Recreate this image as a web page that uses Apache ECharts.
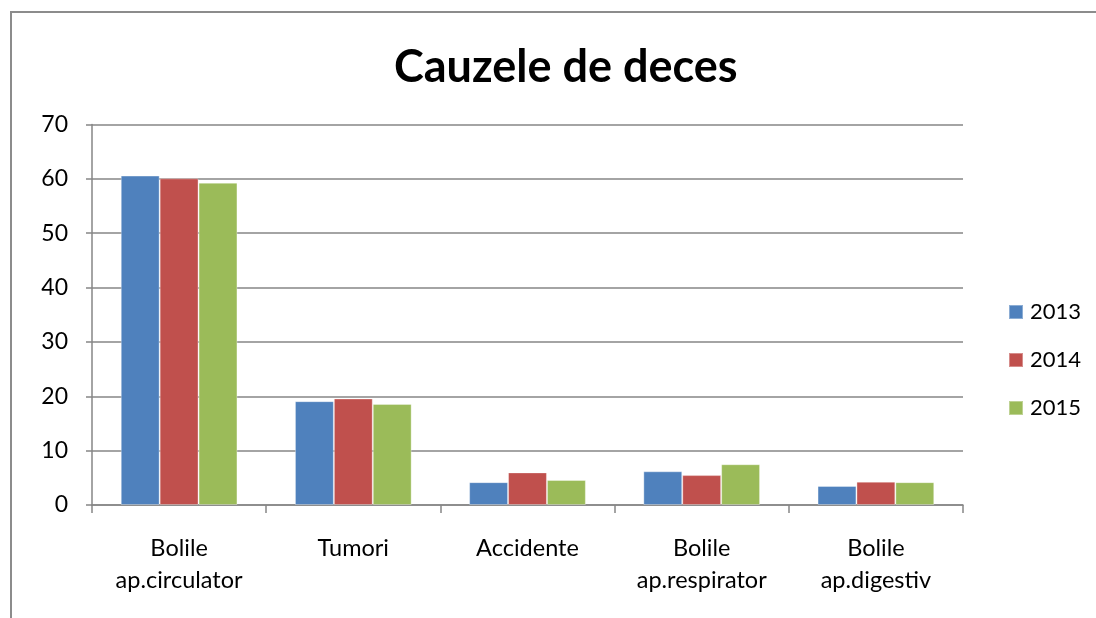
<!DOCTYPE html>
<html>
<head>
<meta charset="utf-8">
<script src="https://cdn.jsdelivr.net/npm/echarts@6/dist/echarts.min.js"></script>
<style>
html,body{margin:0;padding:0;background:#fff;}
#frame{position:absolute;left:10px;top:11px;width:1100px;height:620px;border-left:2px solid #8c8c8c;border-top:2px solid #8c8c8c;}
#chart{position:absolute;left:0;top:0;width:1096px;height:618px;}
</style>
</head>
<body>
<div id="frame"></div>
<div id="chart"></div>
<script>
const titleText = 'Cauzele de deces';
const categories = ['Bolile\nap.circulator', 'Tumori', 'Accidente', 'Bolile\nap.respirator', 'Bolile\nap.digestiv'];
const seriesNames = ['2013', '2014', '2015'];
const values2013 = [60.6, 19.1, 4.2, 6.2, 3.5];
const values2014 = [60.1, 19.6, 6.0, 5.5, 4.3];
const values2015 = [59.3, 18.6, 4.6, 7.5, 4.2];
const yTicks = {min: 0, max: 70, interval: 10};

const colors = ['#4F81BD', '#C0504D', '#9BBB59'];
const font = 'Lato, "Open Sans", sans-serif';
const allValues = [values2013, values2014, values2015];

const chart = echarts.init(document.getElementById('chart'));
chart.setOption({
  backgroundColor: 'transparent',
  animation: false,
  title: {
    text: titleText,
    left: 389,
    top: 40,
    textStyle: {fontFamily: font, fontWeight: 'bold', fontSize: 45, color: '#000'}
  },
  legend: {
    orient: 'vertical',
    left: 1003,
    top: 296,
    itemWidth: 14,
    itemHeight: 14,
    itemGap: 26,
    icon: 'rect',
    textStyle: {fontFamily: font, fontSize: 22, color: '#000', padding: [0, 0, 0, 2]},
    data: seriesNames
  },
  grid: {left: 92, right: 133, top: 124.5, bottom: 113, containLabel: false},
  xAxis: {
    type: 'category',
    data: categories,
    axisLine: {lineStyle: {color: '#868686', width: 1.5}},
    axisTick: {show: true, length: 8, lineStyle: {color: '#868686', width: 1.5}},
    axisLabel: {fontFamily: font, fontSize: 23.5, color: '#000', lineHeight: 32, margin: 27, interval: 0}
  },
  yAxis: {
    type: 'value',
    min: yTicks.min, max: yTicks.max, interval: yTicks.interval,
    axisLine: {show: true, lineStyle: {color: '#868686', width: 1.5}},
    axisTick: {show: true, length: 6, lineStyle: {color: '#868686', width: 1.5}},
    splitLine: {show: true, lineStyle: {color: '#868686', width: 1.5}},
    axisLabel: {fontFamily: font, fontSize: 23, color: '#000', margin: 24}
  },
  series: seriesNames.map((name, i) => ({
    name: name,
    type: 'bar',
    data: allValues[i],
    barGap: '0%',
    barCategoryGap: '33%',
    itemStyle: {color: colors[i], borderColor: 'rgba(255,255,255,0.35)', borderWidth: 1}
  }))
});
</script>
</body>
</html>
